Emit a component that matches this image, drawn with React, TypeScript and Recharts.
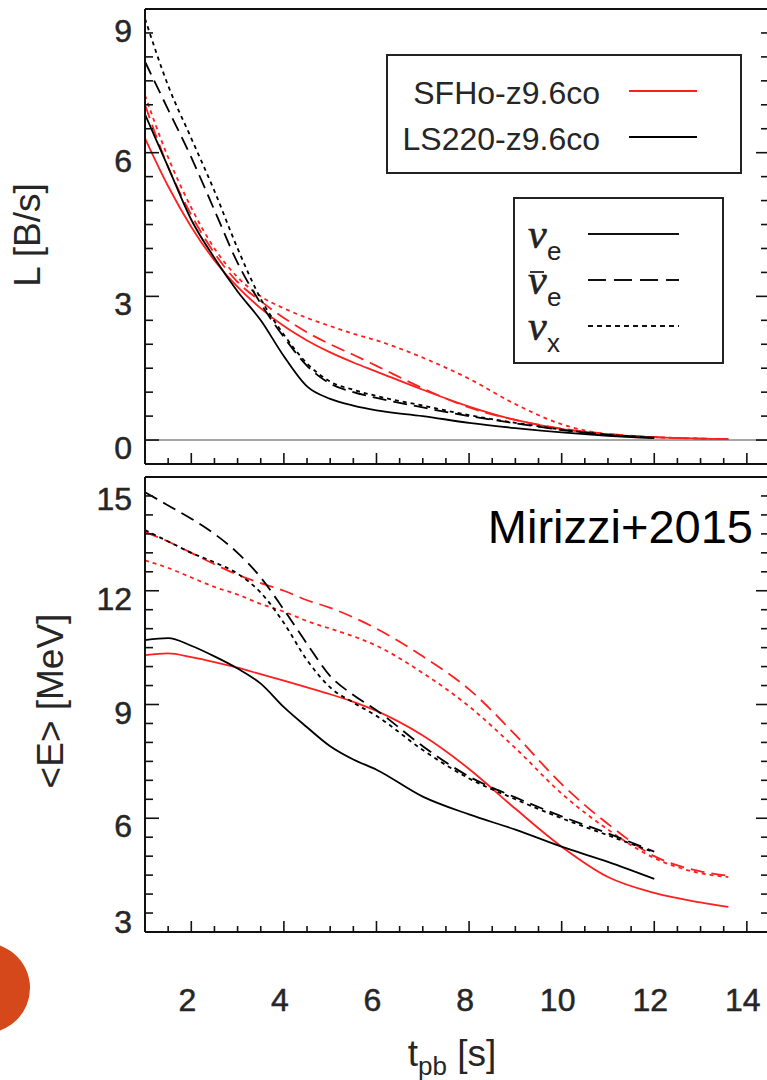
import React from 'react';
import { LineChart, Line, XAxis, YAxis, ReferenceLine } from 'recharts';

const FONT = '"Liberation Sans", Arial, Helvetica, sans-serif';
const SERIF = '"Liberation Serif", "DejaVu Serif", "Times New Roman", serif';
const RED = '#ff1f1f';
const BLACK = '#000000';
const INK = '#262626';

// Post-bounce time grids [s]
const tLS = [1, 1.5, 2, 2.5, 3, 3.5, 4, 4.5, 5, 5.5, 6, 7, 8, 9, 10, 11, 12];
const tSF = [1, 1.5, 2, 2.5, 3, 3.5, 4, 4.5, 5, 5.5, 6, 7, 8, 9, 10, 11, 12, 13, 13.6];

// Luminosities L [B/s]
const L_LS_nue = [6.8, 5.7, 4.6, 3.8, 3.1, 2.5, 1.75, 1.12, 0.86, 0.72, 0.62, 0.5, 0.36, 0.25, 0.16, 0.09, 0.04];
const L_LS_nueb = [7.9, 6.9, 5.9, 4.8, 3.7, 2.85, 2.15, 1.55, 1.18, 1.0, 0.88, 0.68, 0.5, 0.35, 0.21, 0.11, 0.05];
const L_LS_nux = [8.8, 7.4, 6.3, 5.2, 4.0, 2.95, 2.2, 1.6, 1.22, 1.05, 0.92, 0.72, 0.52, 0.36, 0.22, 0.11, 0.05];
const L_SF_nue = [6.3, 5.3, 4.45, 3.75, 3.2, 2.75, 2.38, 2.08, 1.83, 1.62, 1.43, 1.05, 0.7, 0.42, 0.23, 0.12, 0.06, 0.03, 0.02];
const L_SF_nueb = [7.0, 5.7, 4.7, 3.9, 3.3, 2.9, 2.55, 2.25, 2.0, 1.78, 1.55, 1.08, 0.68, 0.42, 0.24, 0.13, 0.06, 0.03, 0.02];
const L_SF_nux = [7.2, 5.9, 4.85, 4.0, 3.4, 3.0, 2.75, 2.55, 2.38, 2.22, 2.08, 1.72, 1.28, 0.75, 0.33, 0.12, 0.06, 0.03, 0.02];

// Mean energies <E> [MeV]
const E_LS_nue = [10.7, 10.75, 10.55, 10.27, 9.95, 9.55, 8.93, 8.4, 7.9, 7.55, 7.28, 6.57, 6.1, 5.7, 5.25, 4.85, 4.4];
const E_LS_nueb = [14.6, 14.25, 13.9, 13.5, 13.0, 12.35, 11.5, 10.6, 9.75, 9.25, 8.85, 7.9, 7.1, 6.55, 6.05, 5.6, 5.12];
const E_LS_nux = [13.6, 13.3, 13.0, 12.75, 12.45, 11.95, 11.15, 10.17, 9.45, 9.05, 8.7, 7.8, 7.05, 6.5, 6.0, 5.55, 5.1];
const E_SF_nue = [10.3, 10.35, 10.25, 10.12, 9.97, 9.8, 9.63, 9.45, 9.27, 9.07, 8.83, 8.18, 7.3, 6.25, 5.25, 4.45, 4.03, 3.78, 3.66];
const E_SF_nueb = [13.55, 13.3, 13.0, 12.7, 12.42, 12.2, 12.0, 11.75, 11.55, 11.3, 11.0, 10.27, 9.4, 8.2, 6.9, 5.85, 5.0, 4.6, 4.48];
const E_SF_nux = [12.8, 12.6, 12.35, 12.1, 11.9, 11.65, 11.45, 11.2, 11.0, 10.8, 10.55, 9.83, 8.95, 7.85, 6.65, 5.7, 4.95, 4.55, 4.45];

// Axis ticks
const xMajor = [2, 4, 6, 8, 10, 12, 14];
const xTicks: number[] = [];
for (let i = 3; i <= 28; i++) xTicks.push(i / 2);
const lMajor = [0, 3, 6, 9];
const lTicks: number[] = [];
for (let i = 0; i <= 18; i++) lTicks.push(i / 2);
const eMajor = [3, 6, 9, 12, 15];
const eTicks: number[] = [];
for (let i = 6; i <= 30; i++) eTicks.push(i / 2);

// Legend entries
const models = [
  { name: 'SFHo-z9.6co', color: RED },
  { name: 'LS220-z9.6co', color: BLACK },
];
const DASH = '14 7';
const DOT = '4 4';
const flavors = [
  { sub: 'e', bar: false, dash: undefined as string | undefined },
  { sub: 'e', bar: true, dash: DASH },
  { sub: 'x', bar: false, dash: DOT },
];

const zip = (t: number[], v: number[]) => t.map((x, i) => ({ t: x, v: v[i] }));

const lumSeries = [
  { id: 'L-SF-nue', data: zip(tSF, L_SF_nue), color: RED, dash: undefined },
  { id: 'L-SF-nueb', data: zip(tSF, L_SF_nueb), color: RED, dash: DASH },
  { id: 'L-SF-nux', data: zip(tSF, L_SF_nux), color: RED, dash: DOT },
  { id: 'L-LS-nue', data: zip(tLS, L_LS_nue), color: BLACK, dash: undefined },
  { id: 'L-LS-nueb', data: zip(tLS, L_LS_nueb), color: BLACK, dash: DASH },
  { id: 'L-LS-nux', data: zip(tLS, L_LS_nux), color: BLACK, dash: DOT },
];
const enSeries = [
  { id: 'E-SF-nue', data: zip(tSF, E_SF_nue), color: RED, dash: undefined },
  { id: 'E-SF-nueb', data: zip(tSF, E_SF_nueb), color: RED, dash: DASH },
  { id: 'E-SF-nux', data: zip(tSF, E_SF_nux), color: RED, dash: DOT },
  { id: 'E-LS-nue', data: zip(tLS, E_LS_nue), color: BLACK, dash: undefined },
  { id: 'E-LS-nueb', data: zip(tLS, E_LS_nueb), color: BLACK, dash: DASH },
  { id: 'E-LS-nux', data: zip(tLS, E_LS_nux), color: BLACK, dash: DOT },
];

const W = 771;
const FRAME = { stroke: '#111', strokeWidth: 2 };
const TICK_STROKE = '#111';
const LABEL_FS = 32;

const isIn = (arr: number[], v: number) => arr.some((a) => Math.abs(a - v) < 1e-6);

const bottomTick = (showLabels: boolean) => (p: any) => {
  const v = p.payload.value;
  const major = isIn(xMajor, v);
  return (
    <g>
      <line x1={p.x} x2={p.x} y1={p.y} y2={p.y - (major ? 11 : 6)} stroke={TICK_STROKE} strokeWidth={1.6} />
      {showLabels && major ? (
        <text
          x={p.x - 4}
          y={p.y + 79}
          textAnchor="middle"
          fontSize={LABEL_FS}
          fill={INK}
          stroke={INK}
          strokeWidth={0.5}
          fontFamily={FONT}
        >
          {v}
        </text>
      ) : null}
    </g>
  );
};

const topTick = (p: any) => {
  const major = isIn(xMajor, p.payload.value);
  return <line x1={p.x} x2={p.x} y1={p.y} y2={p.y + (major ? 9 : 6)} stroke={TICK_STROKE} strokeWidth={1.6} />;
};

const leftTick = (majors: number[], top: number, bottom: number) => (p: any) => {
  const v = p.payload.value;
  const major = isIn(majors, v);
  const cy = Math.min(Math.max(p.y + 8, top + 22), bottom - 10);
  return (
    <g>
      <line x1={p.x} x2={p.x + (major ? 14 : 8)} y1={p.y} y2={p.y} stroke={TICK_STROKE} strokeWidth={1.6} />
      {major ? (
        <text
          x={p.x - 13}
          y={cy + 11}
          textAnchor="end"
          fontSize={LABEL_FS}
          fill={INK}
          stroke={INK}
          strokeWidth={0.5}
          fontFamily={FONT}
        >
          {v}
        </text>
      ) : null}
    </g>
  );
};

const rightTick = (majors: number[]) => (p: any) => {
  const major = isIn(majors, p.payload.value);
  return <line x1={p.x} x2={p.x - (major ? 14 : 9)} y1={p.y} y2={p.y} stroke={TICK_STROKE} strokeWidth={1.6} />;
};

function renderLines(series: typeof lumSeries) {
  return series.map((s) => (
    <Line
      key={s.id}
      data={s.data}
      dataKey="v"
      xAxisId="b"
      yAxisId="l"
      type="monotone"
      stroke={s.color}
      strokeWidth={1.8}
      strokeDasharray={s.dash}
      dot={false}
      activeDot={false}
      isAnimationActive={false}
    />
  ));
}

function Nu({ x, y, sub, bar }: { x: number; y: number; sub: string; bar: boolean }) {
  return (
    <g>
      {bar ? <line x1={x + 2} x2={x + 16} y1={y - 22} y2={y - 22} stroke="#222" strokeWidth={1.8} /> : null}
      <text x={x} y={y} fontSize={42} fontStyle="italic" fill="#222" stroke="#222" strokeWidth={0.6} fontFamily={SERIF}>
        ν
      </text>
      <text x={x + 19} y={y + 12} fontSize={26} fill="#222" fontFamily={FONT}>
        {sub}
      </text>
    </g>
  );
}

export default function App() {
  return (
    <div
      style={{
        position: 'absolute',
        left: 0,
        top: 0,
        width: 767,
        height: 1080,
        overflow: 'hidden',
        background: '#fff',
        fontFamily: FONT,
      }}
    >
      {/* Luminosity panel */}
      <div style={{ position: 'absolute', left: 0, top: 0 }}>
        <LineChart width={W} height={470} margin={{ top: 0, right: 0, bottom: 0, left: 0 }}>
          <XAxis
            xAxisId="b"
            dataKey="t"
            type="number"
            domain={[1, 14.5]}
            allowDataOverflow
            ticks={xTicks}
            interval={0}
            height={6}
            tickSize={0}
            tickMargin={0}
            tickLine={false}
            axisLine={FRAME}
            tick={bottomTick(false)}
          />
          <XAxis
            xAxisId="t"
            orientation="top"
            type="number"
            domain={[1, 14.5]}
            allowDataOverflow
            ticks={xTicks}
            interval={0}
            height={9}
            tickSize={0}
            tickMargin={0}
            tickLine={false}
            axisLine={FRAME}
            tick={topTick}
          />
          <YAxis
            yAxisId="l"
            type="number"
            domain={[-0.5, 9]}
            allowDataOverflow
            ticks={lTicks}
            interval={0}
            width={145}
            tickSize={0}
            tickMargin={0}
            tickLine={false}
            axisLine={FRAME}
            tick={leftTick(lMajor, 9, 464)}
          />
          <YAxis
            yAxisId="r"
            orientation="right"
            type="number"
            domain={[-0.5, 9]}
            allowDataOverflow
            ticks={lTicks}
            interval={0}
            width={1}
            tickSize={0}
            tickMargin={0}
            tickLine={false}
            axisLine={FRAME}
            tick={rightTick(lMajor)}
          />
          <ReferenceLine xAxisId="b" yAxisId="l" y={0} stroke="#8a8a8a" strokeWidth={1.5} />
          {renderLines(lumSeries)}

          <text
            x={40}
            y={235}
            transform="rotate(-90 40 235)"
            textAnchor="middle"
            fontSize={37}
            fill={INK}
            fontFamily={FONT}
          >
            L [B/s]
          </text>

          {/* model legend */}
          <rect x={387} y={55} width={354} height={118} fill="#fff" stroke="#222" strokeWidth={2} />
          {models.map((m, i) => (
            <g key={m.name}>
              <text x={600} y={104 + i * 46} textAnchor="end" fontSize={32} fill={INK} fontFamily={FONT}>
                {m.name}
              </text>
              <line x1={629} x2={697} y1={91 + i * 46} y2={91 + i * 46} stroke={m.color} strokeWidth={2} />
            </g>
          ))}

          {/* flavour legend */}
          <rect x={514} y={198} width={209} height={165} fill="#fff" stroke="#222" strokeWidth={2} />
          {flavors.map((f, i) => (
            <g key={i}>
              <Nu x={528} y={248 + i * 46} sub={f.sub} bar={f.bar} />
              <line
                x1={588}
                x2={679}
                y1={234 + i * 46}
                y2={234 + i * 46}
                stroke="#111"
                strokeWidth={2}
                strokeDasharray={f.dash === DASH ? '18 8' : f.dash === DOT ? '5 4' : undefined}
              />
            </g>
          ))}
        </LineChart>
      </div>

      {/* Mean energy panel */}
      <div style={{ position: 'absolute', left: 0, top: 470 }}>
        <LineChart width={W} height={610} margin={{ top: 0, right: 0, bottom: 0, left: 0 }}>
          <XAxis
            xAxisId="b"
            dataKey="t"
            type="number"
            domain={[1, 14.5]}
            allowDataOverflow
            ticks={xTicks}
            interval={0}
            height={148}
            tickSize={0}
            tickMargin={0}
            tickLine={false}
            axisLine={FRAME}
            tick={bottomTick(true)}
          />
          <XAxis
            xAxisId="t"
            orientation="top"
            type="number"
            domain={[1, 14.5]}
            allowDataOverflow
            ticks={xTicks}
            interval={0}
            height={7}
            tickSize={0}
            tickMargin={0}
            tickLine={false}
            axisLine={FRAME}
            tick={topTick}
          />
          <YAxis
            yAxisId="l"
            type="number"
            domain={[3, 15]}
            allowDataOverflow
            ticks={eTicks}
            interval={0}
            width={145}
            tickSize={0}
            tickMargin={0}
            tickLine={false}
            axisLine={FRAME}
            tick={leftTick(eMajor, 7, 462)}
          />
          <YAxis
            yAxisId="r"
            orientation="right"
            type="number"
            domain={[3, 15]}
            allowDataOverflow
            ticks={eTicks}
            interval={0}
            width={1}
            tickSize={0}
            tickMargin={0}
            tickLine={false}
            axisLine={FRAME}
            tick={rightTick(eMajor)}
          />
          {renderLines(enSeries)}

          <text
            x={63}
            y={231}
            transform="rotate(-90 63 231)"
            textAnchor="middle"
            fontSize={37}
            fill={INK}
            fontFamily={FONT}
          >
            {'<E> [MeV]'}
          </text>

          <text x={753} y={73} textAnchor="end" fontSize={47} fill="#000" fontFamily={FONT}>
            Mirizzi+2015
          </text>

          <text x={452} y={596} textAnchor="middle" fontSize={37} fill={INK} fontFamily={FONT}>
            <tspan>t</tspan>
            <tspan fontSize={26} dy={9}>
              pb
            </tspan>
            <tspan dy={-9}> [s]</tspan>
          </text>
        </LineChart>
      </div>

      <div
        style={{
          position: 'absolute',
          left: -60,
          top: 943,
          width: 90,
          height: 90,
          borderRadius: '50%',
          background: '#d4481c',
        }}
      />
    </div>
  );
}
